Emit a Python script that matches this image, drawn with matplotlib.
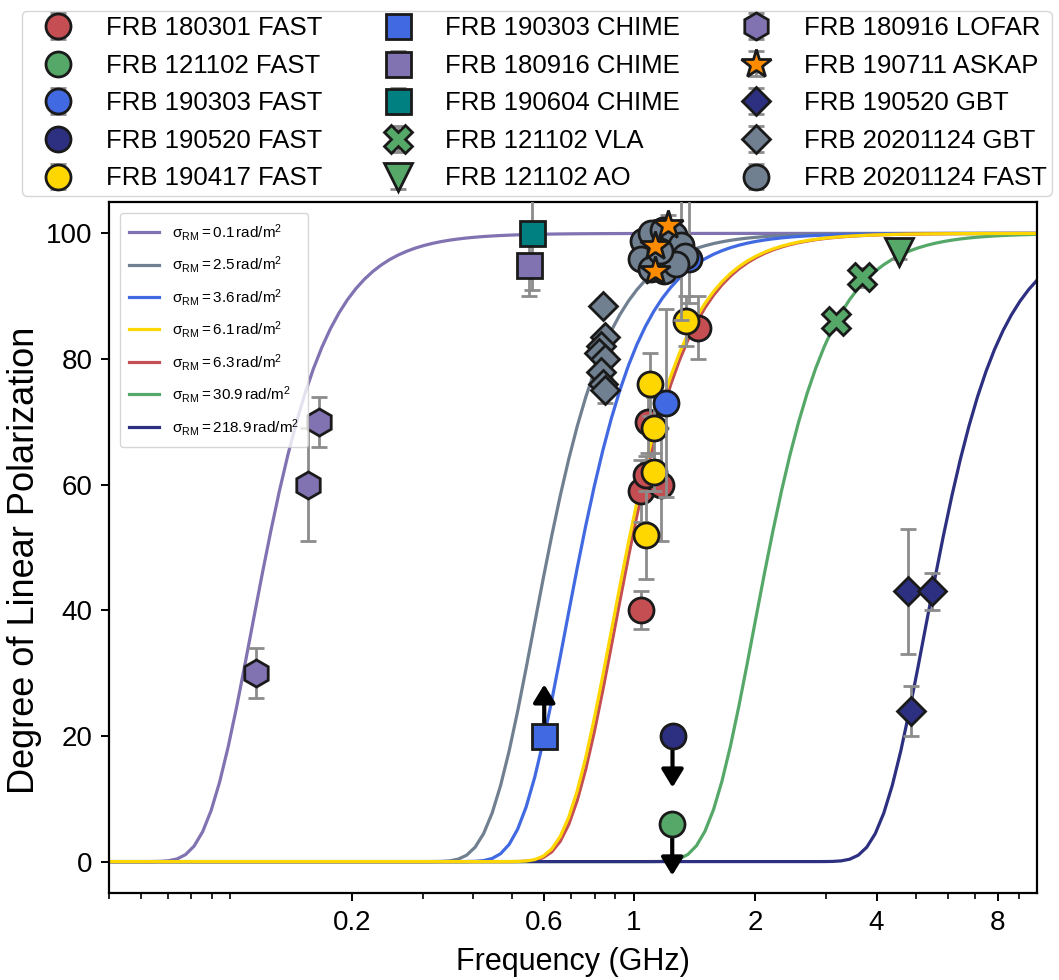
import numpy as np
import matplotlib
matplotlib.use('Agg')
import matplotlib.pyplot as plt
from matplotlib import font_manager as fm
from matplotlib.ticker import FixedLocator, FixedFormatter, NullFormatter

names = {f.name for f in fm.fontManager.ttflist}
NARROW = 'Liberation Sans Narrow' if 'Liberation Sans Narrow' in names else 'Liberation Sans'
plt.rcParams['font.family'] = ['Liberation Sans', 'DejaVu Sans']
plt.rcParams['mathtext.fontset'] = 'custom'
plt.rcParams['mathtext.rm'] = 'Liberation Sans'
plt.rcParams['mathtext.it'] = 'Liberation Sans:italic'

# ---------------- model curves ----------------
sigma_rm = [0.1, 2.5, 3.6, 6.1, 6.3, 30.9, 218.9]
curve_colors = ['#8172B2', '#708090', '#4169E1', '#FFD700', '#C44E52', '#55A868', '#2D2F80']
curve_z = [1.0, 1.1, 1.2, 1.9, 1.3, 1.4, 1.5]

# ---------------- data ----------------
f180301_fast = [1.045, 1.045, 1.17, 1.075, 1.085, 1.44]
p180301_fast = [40, 59, 60, 61.5, 70, 85]
e180301_fast = [3, 5, 9, 3, 5, 5]

f121102_fast = [1.246]
p121102_fast = [6]

f190303_fast = [1.20, 1.37]
p190303_fast = [73, 96]
elo190303_fast = [15, 7]
ehi190303_fast = [15, 14]

f190520_fast = [1.248]
p190520_fast = [20]

f190417_fast = [1.075, 1.122, 1.122, 1.095, 1.349]
p190417_fast = [52, 62, 69, 76, 86]
e190417_fast = [7, 3, 5, 5, 4]

f190303_chime = [0.60]
p190303_chime = [20]

f180916_chime = [0.551]
p180916_chime = [95]
e180916_chime = [5]

f190604_chime = [0.558]
p190604_chime = [100]
e190604_chime = [9]

f121102_vla = [3.18, 3.68]
p121102_vla = [86, 93]
e121102_vla = [1, 1.5]

f121102_ao = [4.56]
p121102_ao = [97]
e121102_ao = [1]

f180916_lofar = [0.116, 0.156, 0.166]
p180916_lofar = [30, 60, 70]
e180916_lofar = [4, 9, 4]

f190711_askap = [1.127, 1.127, 1.215]
p190711_askap = [94, 98, 101.4]
e190711_askap = [1, 1, 1.5]

f190520_gbt = [4.78, 5.48, 4.88]
p190520_gbt = [43, 43, 24]
e190520_gbt = [10, 3, 4]

f20201124_gbt = [0.84, 0.85, 0.83, 0.82, 0.85, 0.83, 0.84, 0.85]
p20201124_gbt = [88.5, 83.5, 82, 81, 80, 78, 76, 75]
e20201124_gbt = [1, 1, 1, 1, 1, 1, 1, 2]

f20201124_fast = [1.054, 1.105, 1.18, 1.26, 1.31, 1.34, 1.045, 1.105, 1.19, 1.275, 1.16]
p20201124_fast = [98.8, 100.1, 100.6, 99.8, 98.2, 96.4, 95.9, 94.3, 94.0, 95.1, 97.2]
e20201124_fast = [1, 1, 1, 1, 12, 1, 1, 1, 1, 1, 1]

# limits (arrows)
lim_freq = [0.60, 1.248, 1.246]
lim_pol = [20, 20, 6]
lim_dir = [1, -1, -1]
lim_len = 8.2

xticks_major = [0.2, 0.6, 1, 2, 4, 8]
xtick_labels = ['0.2', '0.6', '1', '2', '4', '8']
yticks = [0, 20, 40, 60, 80, 100]

# ---------------- figure ----------------
fig = plt.figure(figsize=(10.59, 9.8), dpi=100)
ax = fig.add_axes([109/1059, 1-893/980, (1037-109)/1059, (893-202)/980])
ax.set_xscale('log')
ax.set_xlim(0.05, 10)
ax.set_ylim(-5, 105)

nu = np.logspace(np.log10(0.05), 1, 110)
lam = 0.299792458 / nu
curve_handles = []
for s, c, z in zip(sigma_rm, curve_colors, curve_z):
    pol = 100 * np.exp(-2 * s**2 * lam**4)
    ln, = ax.plot(nu, pol, color=c, lw=2.3, zorder=z,
                  label=r'$\mathrm{\sigma_{RM}} = %s\,\mathrm{rad/m^{2}}$' % s)
    curve_handles.append(ln)

EC = '#1a1a1a'
ECOL = '#8c8c8c'
handles, labels = [], []


def series(freq, pol, err, marker, color, ms, label, z=4):
    if err is not None:
        if isinstance(err, tuple):
            yerr = [err[0], err[1]]
        else:
            yerr = err
    else:
        yerr = None
    cont = ax.errorbar(freq, pol, yerr=yerr, fmt=marker, ms=ms, mfc=color, mec=EC,
                       mew=2.0, ecolor=ECOL, elinewidth=2.0, capsize=5.5, capthick=2.0,
                       zorder=z, label=label)
    handles.append(cont)
    labels.append(label)


series(f180301_fast, p180301_fast, e180301_fast, 'o', '#C44E52', 18, 'FRB 180301 FAST')
series(f121102_fast, p121102_fast, None, 'o', '#55A868', 18, 'FRB 121102 FAST')
series(f190303_fast, p190303_fast, (elo190303_fast, ehi190303_fast), 'o', '#4169E1', 18, 'FRB 190303 FAST', z=4.2)
series(f190520_fast, p190520_fast, None, 'o', '#2D2F80', 18, 'FRB 190520 FAST')
series(f190417_fast, p190417_fast, e190417_fast, 'o', '#FFD700', 18, 'FRB 190417 FAST', z=4.1)
series(f190303_chime, p190303_chime, None, 's', '#4169E1', 18, 'FRB 190303 CHIME')
series(f180916_chime, p180916_chime, e180916_chime, 's', '#8172B2', 18, 'FRB 180916 CHIME')
series(f190604_chime, p190604_chime, e190604_chime, 's', '#008080', 18, 'FRB 190604 CHIME')
series(f121102_vla, p121102_vla, e121102_vla, 'X', '#55A868', 19.5, 'FRB 121102 VLA')
series(f121102_ao, p121102_ao, e121102_ao, 'v', '#55A868', 19.5, 'FRB 121102 AO')
series(f180916_lofar, p180916_lofar, e180916_lofar, 'h', '#8172B2', 19.5, 'FRB 180916 LOFAR')
series(f190711_askap, p190711_askap, e190711_askap, '*', '#FF8C00', 22, 'FRB 190711 ASKAP', z=4.6)
series(f190520_gbt, p190520_gbt, e190520_gbt, 'D', '#2D2F80', 14.5, 'FRB 190520 GBT')
series(f20201124_gbt, p20201124_gbt, e20201124_gbt, 'D', '#708090', 14.5, 'FRB 20201124 GBT')
series(f20201124_fast, p20201124_fast, e20201124_fast, 'o', '#708090', 18, 'FRB 20201124 FAST', z=4.5)

for f, p, d in zip(lim_freq, lim_pol, lim_dir):
    ax.annotate('', xy=(f, p + d * lim_len), xytext=(f, p),
                arrowprops=dict(arrowstyle='-|>,head_width=0.55,head_length=0.9',
                                color='black', lw=3.0, shrinkA=0, shrinkB=0,
                                mutation_scale=12), zorder=3.5)

# axes styling
ax.xaxis.set_major_locator(FixedLocator(xticks_major))
ax.xaxis.set_major_formatter(FixedFormatter(xtick_labels))
minor = []
for dec in [0.01, 0.1, 1]:
    for k in range(1, 10):
        v = k * dec
        if 0.05 <= v <= 10 and not any(abs(v - m) < 1e-9 for m in xticks_major):
            minor.append(v)
ax.xaxis.set_minor_locator(FixedLocator(minor))
ax.xaxis.set_minor_formatter(NullFormatter())
ax.set_yticks(yticks)

for sp in ax.spines.values():
    sp.set_linewidth(1.6)
    sp.set_color('black')
ax.tick_params(axis='both', which='major', direction='out', length=6, width=1.4,
               labelsize=20, pad=6)
ax.tick_params(axis='x', which='minor', direction='out', length=4, width=1.2)
for lab in ax.get_xticklabels() + ax.get_yticklabels():
    lab.set_fontfamily(NARROW)

ax.set_xlabel('Frequency (GHz)', fontsize=22, fontfamily=NARROW, labelpad=8)
ax.set_ylabel('Degree of Linear Polarization', fontsize=26)
ax.yaxis.set_label_coords(-0.072, 0.482)

leg_in = ax.legend(handles=curve_handles, loc='upper left', fontsize=11,
                   handlelength=2.0, labelspacing=0.75, borderpad=0.6,
                   borderaxespad=0.7, frameon=True)

leg = fig.legend(handles, labels, loc='upper center', bbox_to_anchor=(0.507, 1.002),
                 ncol=3, fontsize=18.5, labelspacing=0.53, handlelength=2.4,
                 handletextpad=0.65, columnspacing=1.75, borderpad=0.2, frameon=True)
for h in leg.legend_handles:
    try:
        if h.get_marker() == 'D':
            h.set_markersize(11)
    except Exception:
        pass

fig.savefig('out.png', dpi=100)
